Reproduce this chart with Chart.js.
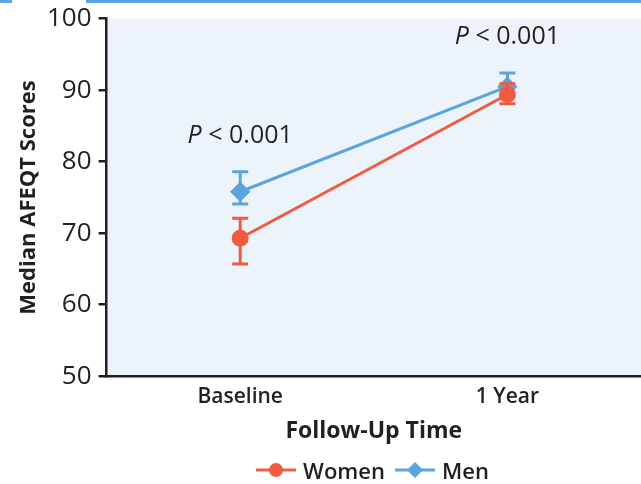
<!DOCTYPE html>
<html>
<head>
<meta charset="utf-8">
<script src="https://cdn.jsdelivr.net/npm/chart.js@4.4.1/dist/chart.umd.min.js"></script>
<style>
  html, body { margin: 0; padding: 0; background: #fff; }
  #wrap { position: relative; width: 641px; height: 484px; }
  .bar { position: absolute; top: 0; height: 3px; background: #5ba4dd; }
  #legend {
    position: absolute; left: 104px; width: 537px; top: 455px;
    display: flex; justify-content: center; align-items: center;
    font: 600 22px "Open Sans", sans-serif; color: #231f20;
  }
  #legend .item { display: flex; align-items: center; margin: 0 5px; }
  #legend canvas { margin-right: 7px; }
</style>
</head>
<body>
<div id="wrap">
  <div class="bar" style="left:0;width:12px"></div>
  <div class="bar" style="left:86px;width:555px"></div>
  <canvas id="afeqt" width="641" height="484"></canvas>
  <div id="legend"></div>
</div>
<script>
// follow-up time points
const timePoints = ['Baseline', '1 Year'];

// median AFEQT scores with their error ranges
const womenMedian = [69.3, 89.4];
const womenLow = [65.7, 88.1];
const womenHigh = [72.1, 90.9];

const menMedian = [75.8, 90.5];
const menLow = [74.1, 89.2];
const menHigh = [78.6, 92.4];

// p-value labels: [time point index, score height, text]
const pLabels = [
    [0, 83.6, '< 0.001'],
    [1, 97.5, '< 0.001']
];

const yTicks = [50, 60, 70, 80, 90, 100];

const red = '#ef5b41';
const blue = '#5ba4dd';
const ink = '#231f20';
const font = '"Open Sans", sans-serif';

const errors = [
    { low: womenLow, high: womenHigh },
    { low: menLow, high: menHigh }
];

// little legend swatch: line through the marker
function swatch(color, style) {
    const c = document.createElement('canvas');
    c.width = 40; c.height = 20;
    const g = c.getContext('2d');
    g.strokeStyle = color;
    g.fillStyle = color;
    g.lineWidth = 3;
    g.beginPath(); g.moveTo(0, 10); g.lineTo(40, 10); g.stroke();
    g.beginPath();
    if (style === 'circle') {
        g.arc(20, 10, 7, 0, Math.PI * 2);
    } else {
        g.moveTo(20, 2); g.lineTo(28, 10); g.lineTo(20, 18); g.lineTo(12, 10); g.closePath();
    }
    g.fill();
    return c;
}

const plotBackground = {
    id: 'plotBackground',
    beforeDraw(chart) {
        const { ctx, chartArea: a } = chart;
        ctx.save();
        ctx.fillStyle = '#ecf3fb';
        ctx.fillRect(a.left, a.top, a.right - a.left, a.bottom - a.top);
        ctx.restore();
    }
};

const errorBars = {
    id: 'errorBars',
    beforeDatasetDraw(chart, args) {
        const { ctx } = chart;
        const x = chart.scales.x, y = chart.scales.y;
        const ds = chart.data.datasets[args.index];
        const e = errors[args.index];
        ctx.save();
        ctx.strokeStyle = ds.borderColor;
        ctx.lineWidth = 3;
        timePoints.forEach((t, i) => {
            const px = x.getPixelForValue(i);
            const top = y.getPixelForValue(e.high[i]);
            const bot = y.getPixelForValue(e.low[i]);
            ctx.beginPath();
            ctx.moveTo(px, top); ctx.lineTo(px, bot);
            ctx.moveTo(px - 8, top); ctx.lineTo(px + 8, top);
            ctx.moveTo(px - 8, bot); ctx.lineTo(px + 8, bot);
            ctx.stroke();
        });
        ctx.restore();
    }
};

const pValues = {
    id: 'pValues',
    afterDraw(chart) {
        const { ctx } = chart;
        const x = chart.scales.x, y = chart.scales.y;
        ctx.save();
        ctx.fillStyle = ink;
        ctx.textBaseline = 'middle';
        pLabels.forEach(([i, v, txt]) => {
            const italic = 'italic 500 25px ' + font;
            const normal = '500 25px ' + font;
            ctx.font = italic;
            const wP = ctx.measureText('P ').width;
            ctx.font = normal;
            const wT = ctx.measureText(txt).width;
            let px = x.getPixelForValue(i) - (wP + wT) / 2;
            const py = y.getPixelForValue(v);
            ctx.font = italic;
            ctx.fillText('P ', px, py);
            ctx.font = normal;
            ctx.fillText(txt, px + wP, py);
        });
        ctx.restore();
    }
};

const chart = new Chart(document.getElementById('afeqt'), {
    type: 'line',
    data: {
        labels: timePoints,
        datasets: [{
            label: 'Women',
            data: womenMedian,
            borderColor: red,
            backgroundColor: red,
            borderWidth: 3,
            pointStyle: 'circle',
            pointRadius: 7,
            pointHoverRadius: 7
        }, {
            label: 'Men',
            data: menMedian,
            borderColor: blue,
            backgroundColor: blue,
            borderWidth: 3,
            pointStyle: 'rectRot',
            pointRadius: 8,
            pointHoverRadius: 8
        }]
    },
    options: {
        responsive: false,
        animation: false,
        layout: { autoPadding: false, padding: { top: 1, left: 18, right: 0, bottom: 39 } },
        plugins: {
            tooltip: { enabled: false },
            legend: { display: false }
        },
        scales: {
            x: {
                offset: true,
                grid: { display: false, drawTicks: false },
                border: { display: true, color: ink, width: 2.5 },
                ticks: {
                    color: ink,
                    padding: 8,
                    font: { family: font, size: 21, weight: '600' }
                },
                title: {
                    display: true,
                    text: 'Follow-Up Time',
                    color: ink,
                    padding: { top: 0, bottom: 0 },
                    font: { family: font, size: 23, weight: 'bold' }
                }
            },
            y: {
                min: 50,
                max: 100,
                afterBuildTicks(scale) {
                    scale.ticks = yTicks.map(v => ({ value: v }));
                },
                grid: {
                    drawOnChartArea: false,
                    drawTicks: true,
                    tickLength: 8,
                    tickColor: ink,
                    lineWidth: 2.5
                },
                border: { display: true, color: ink, width: 2.5 },
                ticks: {
                    color: ink,
                    padding: 7,
                    font: { family: font, size: 26, weight: '500', lineHeight: 0.9 }
                },
                title: {
                    display: true,
                    text: 'Median AFEQT Scores',
                    color: ink,
                    padding: { top: 0, bottom: 0 },
                    font: { family: font, size: 22, weight: 'bold', lineHeight: 1 }
                }
            }
        }
    },
    plugins: [plotBackground, errorBars, pValues]
});

// legend built from the dataset names and colours
const legend = document.getElementById('legend');
chart.data.datasets.forEach((ds, i) => {
    const item = document.createElement('div');
    item.className = 'item';
    item.appendChild(swatch(ds.borderColor, i === 0 ? 'circle' : 'diamond'));
    const label = document.createElement('span');
    label.textContent = ds.label;
    item.appendChild(label);
    legend.appendChild(item);
});
</script>
</body>
</html>
